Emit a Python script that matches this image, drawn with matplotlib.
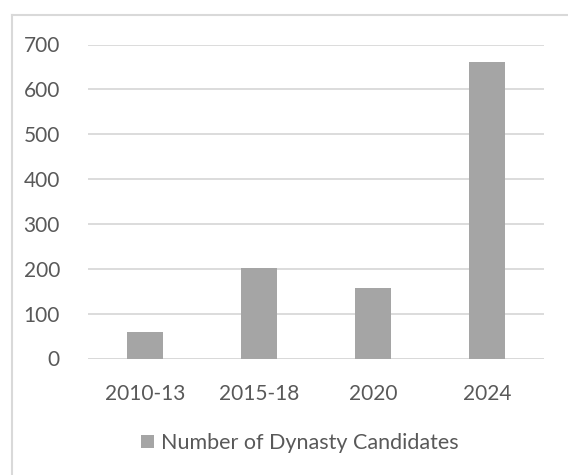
import matplotlib
matplotlib.use("Agg")
import matplotlib.pyplot as plt
from matplotlib.lines import Line2D

categories = ["2010-13", "2015-18", "2020", "2024"]
values = [60, 201, 158, 660]
series_name = "Number of Dynasty Candidates"
yticks = [0, 100, 200, 300, 400, 500, 600, 700]

plt.rcParams['font.family'] = ['Lato', 'DejaVu Sans']
text_color = "#595959"
grid_color = "#d9d9d9"
bar_color = "#a5a5a5"

W, H = 568, 475
fig = plt.figure(figsize=(W / 100, H / 100), dpi=100)
fig.patch.set_facecolor("white")

ax = fig.add_axes([87.7 / W, 1 - 358.5 / H, (544 - 87.7) / W, (358.5 - 44.5) / H])
x = range(len(categories))
ax.bar(x, values, width=0.3125, color=bar_color, label=series_name, zorder=3)
ax.set_xlim(-0.5, len(categories) - 0.5)
ax.set_ylim(0, 700)
ax.set_yticks(yticks)
ax.set_yticklabels([str(t) for t in yticks])
ax.set_xticks(list(x))
ax.set_xticklabels(categories)
for s in ax.spines.values():
    s.set_visible(False)
ax.yaxis.grid(True, color=grid_color, linewidth=1.3, zorder=0)
ax.tick_params(axis='both', length=0, labelsize=15, colors=text_color)
ax.tick_params(axis='y', pad=20)
ax.tick_params(axis='x', pad=18)
ax.set_axisbelow(True)
ax.axhline(0, color=grid_color, linewidth=1.3, zorder=2)

# chart border (top and left visible; rest cropped)
fig.add_artist(Line2D([11.5 / W, 11.5 / W], [0, 1 - 14.5 / H], transform=fig.transFigure,
                      color=grid_color, linewidth=1.5))
fig.add_artist(Line2D([11.5 / W, 1], [1 - 14.5 / H, 1 - 14.5 / H], transform=fig.transFigure,
                      color=grid_color, linewidth=1.5))

leg = fig.legend(loc='center', bbox_to_anchor=(300 / W, 1 - 443 / H), frameon=False,
                 handlelength=0.6, handleheight=0.6, handletextpad=0.35,
                 fontsize=15.5, labelcolor=text_color)

fig.savefig("out.png", dpi=100, facecolor="white")
